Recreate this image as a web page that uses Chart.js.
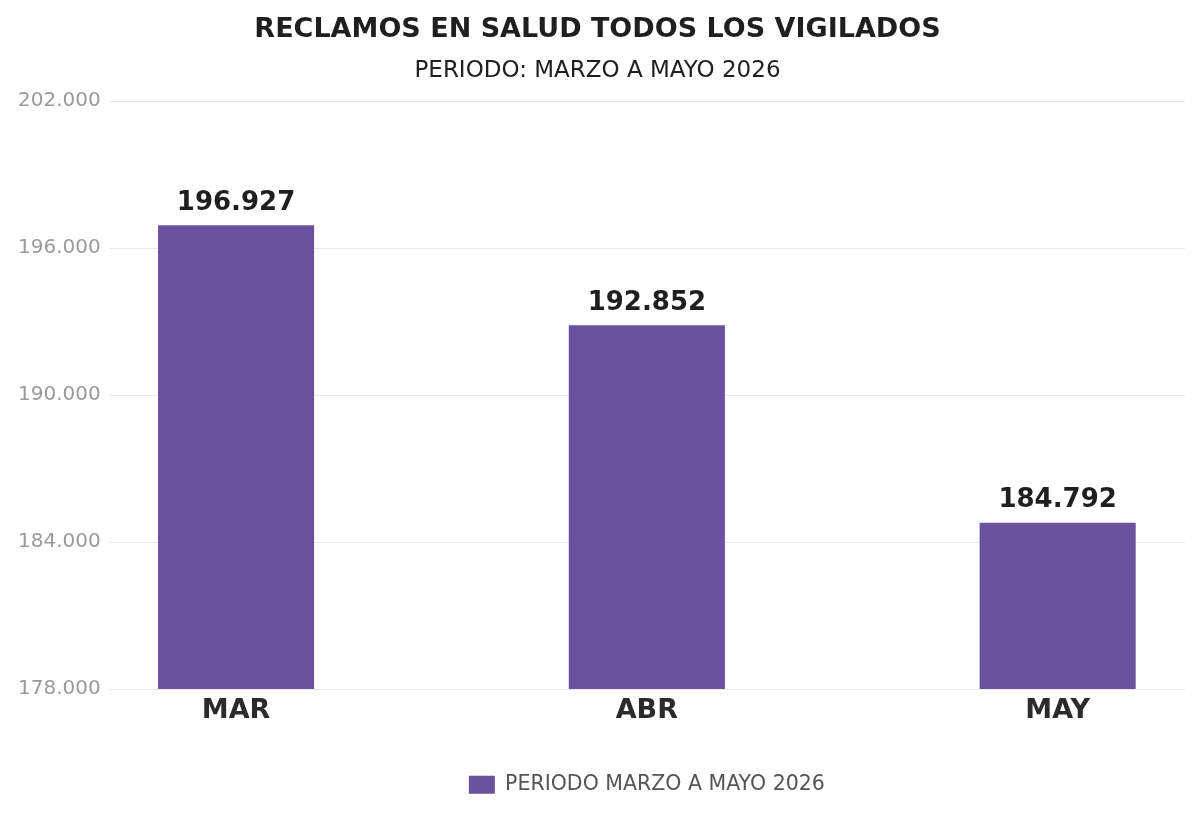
<!DOCTYPE html>
<html>
<head>
<meta charset="utf-8">
<script src="https://cdn.jsdelivr.net/npm/chart.js@4/dist/chart.umd.min.js"></script>
<style>
  html, body { margin: 0; padding: 0; background: #fff; }
  #wrap { width: 1200px; height: 818px; }
</style>
</head>
<body>
<div id="wrap"><canvas id="reclamosChart"></canvas></div>
<script>
var categories = ['MAR', 'ABR', 'MAY'];
var reclamos = [196927, 192852, 184792];
var yTicks = [178000, 184000, 190000, 196000, 202000];
var seriesLabel = 'PERIODO MARZO A MAYO 2026';

function fmt(v) {
    return Math.round(v).toString().replace(/\B(?=(\d{3})+(?!\d))/g, '.');
}

// value labels above bars
var valueLabels = {
    id: 'valueLabels',
    afterDatasetsDraw: function(chart) {
        var ctx = chart.ctx;
        var meta = chart.getDatasetMeta(0);
        ctx.save();
        ctx.font = 'bold 26px "DejaVu Sans"';
        ctx.fillStyle = '#1f1f1f';
        ctx.textAlign = 'center';
        ctx.textBaseline = 'bottom';
        meta.data.forEach(function(bar, i) {
            ctx.fillText(fmt(reclamos[i]), bar.x, bar.y - 9);
        });
        ctx.restore();
    }
};

var ctx = document.getElementById('reclamosChart').getContext('2d');
var data = {
    datasets: [{
        label: seriesLabel,
        data: reclamos.map(function(v, i) { return { x: i, y: v }; }),
        backgroundColor: '#6b52a0',
        barPercentage: 0.38,
        categoryPercentage: 1
    }]
};

var options = {
    responsive: true,
    maintainAspectRatio: false,
    animation: false,
    layout: { padding: { left: 10, right: 15, top: 12, bottom: 13 } },
    plugins: {
        title: {
            display: true,
            text: 'RECLAMOS EN SALUD TODOS LOS VIGILADOS',
            color: '#1f1f1f',
            font: { family: 'DejaVu Sans', size: 27, weight: 'bold' },
            padding: { top: 2, bottom: 11 }
        },
        subtitle: {
            display: true,
            text: 'PERIODO: MARZO A MAYO 2026',
            color: '#1f1f1f',
            font: { family: 'DejaVu Sans', size: 23 },
            padding: { bottom: 16 }
        },
        legend: {
            position: 'bottom',
            fullSize: false,
            labels: {
                boxWidth: 26,
                boxHeight: 18,
                color: '#555',
                padding: 41,
                font: { family: 'DejaVu Sans', size: 20.5 }
            }
        },
        tooltip: { enabled: false }
    },
    scales: {
        x: {
            type: 'linear',
            offset: false,
            min: -0.31,
            max: 2.31,
            grid: { display: false, drawTicks: false },
            border: { display: false },
            afterBuildTicks: function(scale) {
                scale.ticks = categories.map(function(c, i) { return { value: i }; });
            },
            ticks: {
                autoSkip: false,
                maxRotation: 0,
                padding: 6,
                color: '#2b2b2b',
                font: { family: 'DejaVu Sans', size: 27, weight: 'bold' },
                callback: function(v) { return categories[v]; }
            }
        },
        y: {
            min: yTicks[0],
            max: yTicks[yTicks.length - 1],
            afterBuildTicks: function(scale) {
                scale.ticks = yTicks.map(function(v) { return { value: v }; });
            },
            grid: { color: '#e9e9e9', drawTicks: false },
            border: { display: false },
            ticks: {
                padding: 8,
                color: '#9a9a9a',
                font: { family: 'DejaVu Sans', size: 20 },
                callback: function(v) { return fmt(v); }
            }
        }
    }
};

var myBarChart = new Chart(ctx, {
    type: 'bar',
    data: data,
    options: options,
    plugins: [valueLabels]
});
</script>
</body>
</html>
